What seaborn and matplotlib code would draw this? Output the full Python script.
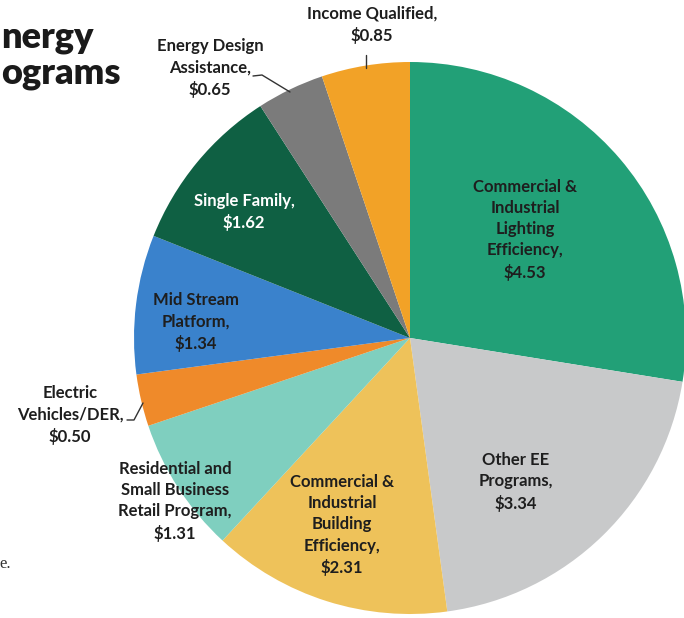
import matplotlib
matplotlib.use("Agg")
import matplotlib.pyplot as plt
import seaborn as sns

# Program budgets ($ millions), clockwise from 12 o'clock
programs = [
    "Commercial &\nIndustrial\nLighting\nEfficiency",
    "Other EE\nPrograms",
    "Commercial &\nIndustrial\nBuilding\nEfficiency",
    "Residential and\nSmall Business\nRetail Program",
    "Electric\nVehicles/DER",
    "Mid Stream\nPlatform",
    "Single Family",
    "Energy Design\nAssistance",
    "Income Qualified",
]
budgets = [4.53, 3.34, 2.31, 1.31, 0.50, 1.34, 1.62, 0.65, 0.85]

slice_colors = ["#22a077", "#c8c9ca", "#eec25a", "#7fcfbf", "#ef8a2a",
                "#3a82cc", "#0f6043", "#7b7b7b", "#f2a227"]
label_colors = ["#1e1e1e", "#1e1e1e", "#1e1e1e", "#1e1e1e", "#1e1e1e",
                "#1e1e1e", "#ffffff", "#1e1e1e", "#1e1e1e"]

sns.set_theme(style="white")
plt.rcParams["font.family"] = ["Lato", "DejaVu Sans"]

W, H = 684, 618
fig = plt.figure(figsize=(W / 100, H / 100), dpi=100)
ax = fig.add_axes([0, 0, 1, 1])

cx, cy, r = 410, H - 338, 276
ax.pie(budgets, colors=sns.color_palette(slice_colors), startangle=90,
       counterclock=False, center=(cx, cy), radius=r, frame=True,
       wedgeprops=dict(linewidth=0))
ax.set_xlim(0, W)
ax.set_ylim(0, H)
ax.set_aspect("equal")
ax.axis("off")

# label anchor points in pixel space (x, y from top)
label_pos = [(525, 230), (516, 482), (342, 525), (175, 501), (70, 415),
             (196, 322), (244, 212), (210, 68), (372, 25)]
for name, val, (px, py), col in zip(programs, budgets, label_pos, label_colors):
    ax.text(px, H - py, f"{name},\n${val:.2f}", ha="center", va="center",
            fontsize=12, fontweight="bold", color=col, linespacing=1.4)

# leader lines for the small outer labels
leaders = [
    [(127, 420), (134, 420), (143, 403)],
    [(253, 76), (262, 75), (290, 92)],
    [(366, 55), (366, 68)],
]
for pts in leaders:
    xs = [p[0] for p in pts]
    ys = [H - p[1] for p in pts]
    ax.plot(xs, ys, color="#333333", lw=1)

# visible end of the heading at the left margin
ax.text(1, H - 48, "nergy", ha="left", va="baseline", fontsize=26,
        fontweight="heavy", color="#1a1a1a")
ax.text(1, H - 83, "ograms", ha="left", va="baseline", fontsize=26,
        fontweight="heavy", color="#1a1a1a")
ax.text(11, H - 568, "e.", ha="right", va="baseline", fontsize=12,
        family=["Liberation Serif", "DejaVu Serif"], color="#333333")

fig.savefig("out.png", dpi=100)
